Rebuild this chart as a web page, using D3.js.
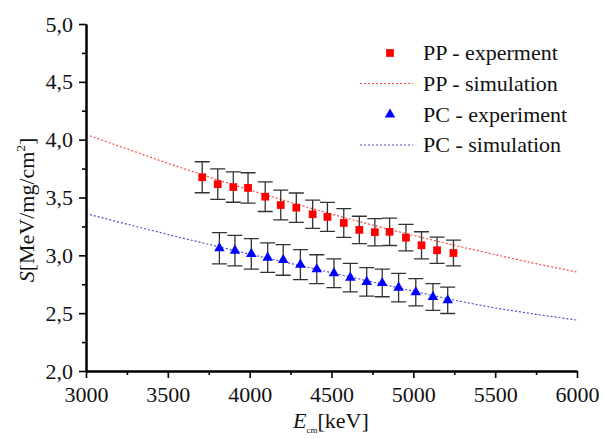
<!DOCTYPE html>
<html>
<head>
<meta charset="utf-8">
<script src="https://cdn.jsdelivr.net/npm/d3@7/dist/d3.min.js"></script>
<style>
  body { margin: 0; background: #fff; }
  svg { display: block; }
  text { font-family: "Liberation Serif", "Times New Roman", serif; fill: #111; }
</style>
</head>
<body>
<svg id="chart" width="606" height="439"></svg>
<script>
// Stopping power measurements, PP foil (squares)
const ppEnergy   = [3710, 3805, 3900, 3990, 4095, 4190, 4285, 4385, 4475, 4575, 4670, 4765, 4855, 4955, 5050, 5145, 5245];
const ppStopping = [3.675, 3.615, 3.590, 3.583, 3.507, 3.435, 3.412, 3.355, 3.332, 3.280, 3.220, 3.200, 3.203, 3.153, 3.087, 3.044, 3.020];
const ppError    = [0.134, 0.132, 0.131, 0.131, 0.128, 0.128, 0.127, 0.122, 0.125, 0.124, 0.118, 0.118, 0.118, 0.114, 0.117, 0.114, 0.111];

// Stopping power measurements, PC foil (triangles)
const pcEnergy   = [3815, 3910, 4010, 4110, 4205, 4310, 4410, 4515, 4615, 4715, 4810, 4910, 5015, 5120, 5210];
const pcStopping = [3.061, 3.041, 3.012, 2.980, 2.960, 2.920, 2.880, 2.845, 2.807, 2.770, 2.761, 2.721, 2.681, 2.640, 2.611];
const pcError    = [0.135, 0.132, 0.132, 0.127, 0.132, 0.130, 0.125, 0.125, 0.123, 0.123, 0.119, 0.123, 0.118, 0.115, 0.114];

// Simulated stopping power curves
const simEnergy = [3000, 3250, 3500, 3750, 4000, 4250, 4500, 4750, 5000, 5250, 5500, 5750, 6000];
const ppSim     = [4.045, 3.920, 3.796, 3.678, 3.565, 3.458, 3.356, 3.262, 3.172, 3.087, 3.006, 2.928, 2.855];
const pcSim     = [3.360, 3.270, 3.180, 3.095, 3.010, 2.930, 2.850, 2.770, 2.690, 2.612, 2.545, 2.490, 2.440];

// Axis ticks
const xMajorTicks = [3000, 3500, 4000, 4500, 5000, 5500, 6000];
const xMinorTicks = [3250, 3750, 4250, 4750, 5250, 5750];
const yMajorTicks = [2.0, 2.5, 3.0, 3.5, 4.0, 4.5, 5.0];
const yMinorTicks = [2.25, 2.75, 3.25, 3.75, 4.25, 4.75];

const legendLabels = ["PP - experment", "PP - simulation", "PC - experiment", "PC - simulation"];

const SERIF = '"Liberation Serif", "Times New Roman", serif';
const svg = d3.select("#chart");
const x = d3.scaleLinear().domain([3000, 6000]).range([86, 577]);
const y = d3.scaleLinear().domain([2, 5]).range([371, 24]);

const RED = "#ff0000", BLUE = "#0000ff";
const RED_SIM = "#ff4a4a", BLUE_SIM = "#5050c8";
const FS = 22;

// Simulation curves (dotted)
const line = d3.line().x(d => x(d[0])).y(d => y(d[1]));
svg.append("path")
  .datum(simEnergy.map((e, i) => [e, ppSim[i]]))
  .attr("d", line).attr("fill", "none")
  .attr("stroke", RED_SIM).attr("stroke-width", 1.2).attr("stroke-dasharray", "2,2");
svg.append("path")
  .datum(simEnergy.map((e, i) => [e, pcSim[i]]))
  .attr("d", line).attr("fill", "none")
  .attr("stroke", BLUE_SIM).attr("stroke-width", 1.2).attr("stroke-dasharray", "2,2");

// Error bars
function errorBars(energy, value, err) {
  const g = svg.append("g").attr("stroke", "#333").attr("stroke-width", 1.3).attr("fill", "none");
  const data = energy.map((e, i) => ({ e, v: value[i], s: err[i] }));
  const cap = 7.5;
  g.selectAll("path").data(data).join("path")
    .attr("d", d => {
      const cx = x(d.e), t = y(d.v + d.s), b = y(d.v - d.s);
      return `M${cx},${t}V${b}M${cx - cap},${t}H${cx + cap}M${cx - cap},${b}H${cx + cap}`;
    });
}
errorBars(ppEnergy, ppStopping, ppError);
errorBars(pcEnergy, pcStopping, pcError);

// Markers
const squareSym = d3.symbol().type(d3.symbolSquare).size(60);
const triSym = d3.symbol().type(d3.symbolTriangle).size(48);
svg.append("g").selectAll("path")
  .data(ppEnergy.map((e, i) => [e, ppStopping[i]]))
  .join("path")
  .attr("d", squareSym)
  .attr("transform", d => `translate(${x(d[0])},${y(d[1])})`)
  .attr("fill", RED);
svg.append("g").selectAll("path")
  .data(pcEnergy.map((e, i) => [e, pcStopping[i]]))
  .join("path")
  .attr("d", triSym)
  .attr("transform", d => `translate(${x(d[0])},${y(d[1])})`)
  .attr("fill", BLUE);

// Axes
const comma = d => d3.format(".1f")(d).replace(".", ",");
function styleAxis(g) {
  g.attr("font-family", SERIF).attr("font-size", FS);
  g.select(".domain").attr("stroke", "#000").attr("stroke-width", 2);
  g.selectAll(".tick line").attr("stroke", "#000").attr("stroke-width", 1.6);
  g.selectAll(".tick text").attr("font-family", SERIF).attr("font-size", FS).attr("fill", "#111");
}
const yAxisG = svg.append("g").attr("transform", "translate(86,0)")
  .call(d3.axisLeft(y).tickValues(yMajorTicks).tickSize(7).tickSizeOuter(0).tickPadding(6).tickFormat(comma));
styleAxis(yAxisG);
const yMinorG = svg.append("g").attr("transform", "translate(86,0)")
  .call(d3.axisLeft(y).tickValues(yMinorTicks).tickSize(4).tickSizeOuter(0).tickFormat(""));
styleAxis(yMinorG);

const xAxisG = svg.append("g").attr("transform", "translate(0,371)")
  .call(d3.axisBottom(x).tickValues(xMajorTicks).tickSize(7).tickSizeOuter(0).tickPadding(8).tickFormat(d3.format("d")));
styleAxis(xAxisG);
const xMinorG = svg.append("g").attr("transform", "translate(0,371)")
  .call(d3.axisBottom(x).tickValues(xMinorTicks).tickSize(4).tickSizeOuter(0).tickFormat(""));
styleAxis(xMinorG);

// Axis titles
const xTitle = svg.append("text").attr("x", 293).attr("y", 428).attr("font-size", FS);
xTitle.append("tspan").attr("font-style", "italic").text("E");
xTitle.append("tspan").attr("dy", 5).attr("font-size", 9).text("cm");
xTitle.append("tspan").attr("dy", -5).text("[keV]");

const yTitle = svg.append("text")
  .attr("transform", "translate(34,210) rotate(-90)")
  .attr("text-anchor", "middle")
  .attr("font-size", FS);
yTitle.append("tspan").attr("font-style", "italic").text("S");
yTitle.append("tspan").text("[MeV/mg/cm");
yTitle.append("tspan").attr("dy", -9).attr("font-size", 13).text("2");
yTitle.append("tspan").attr("dy", 9).text("]");

// Legend
const legend = svg.append("g");
const rowY = [53, 83.5, 114.5, 145];
legend.append("path").attr("d", squareSym).attr("transform", `translate(390,${rowY[0]})`).attr("fill", RED);
legend.append("line").attr("x1", 360).attr("x2", 413).attr("y1", rowY[1]).attr("y2", rowY[1])
  .attr("stroke", RED_SIM).attr("stroke-width", 1.2).attr("stroke-dasharray", "2,2");
legend.append("path").attr("d", triSym).attr("transform", `translate(390,${rowY[2]})`).attr("fill", BLUE);
legend.append("line").attr("x1", 360).attr("x2", 413).attr("y1", rowY[3]).attr("y2", rowY[3])
  .attr("stroke", BLUE_SIM).attr("stroke-width", 1.2).attr("stroke-dasharray", "2,2");
legend.selectAll("text.lab").data(legendLabels).join("text")
  .attr("class", "lab")
  .attr("x", 423).attr("y", (d, i) => rowY[i] + 7)
  .attr("font-size", FS)
  .text(d => d);
</script>
</body>
</html>
